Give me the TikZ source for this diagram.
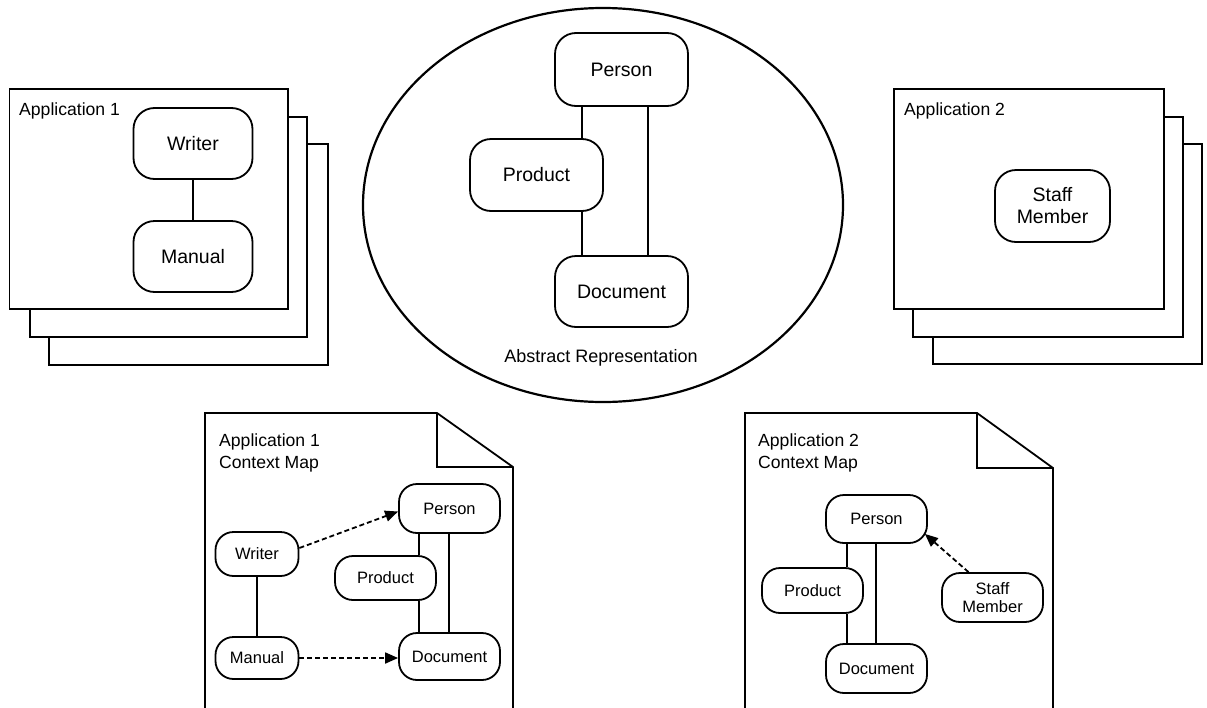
\documentclass[tikz,border=0pt]{standalone}
\usepackage{fontspec}
\setmainfont{Liberation Sans}
\usetikzlibrary{shapes.geometric,arrows.meta,calc}

\begin{document}
\begin{tikzpicture}[x=1pt,y=-1pt,
  outline/.style={draw=black,line width=1.8pt,line join=miter},
  sheet/.style={outline,fill=white},
  bigent/.style={draw,line width=1.8pt,rounded corners=21pt,inner sep=0pt,align=center,
    font=\fontsize{19.5}{22}\selectfont},
  smallent/.style={draw,line width=1.8pt,rounded corners=18pt,minimum width=101pt,inner sep=0pt,
    align=center,font=\fontsize{16.5}{18}\selectfont},
  boxtitle/.style={inner sep=0pt,anchor=base west,font=\fontsize{17.6}{22}\selectfont},
  pagetitle/.style={inner sep=0pt,anchor=north west,align=left,font=\fontsize{17.6}{22}\selectfont},
  link/.style={line width=1.8pt},
  ref/.style={line width=1.8pt,dash pattern=on 5pt off 3pt,-{Triangle[length=13pt,width=11pt]}}
]
\useasboundingbox (0,0) rectangle (1207,707);
\clip (0,0) rectangle (1207,707);

% ---- Application 1: stack of sheets ----
\draw[sheet] (49,144) rectangle (328,365);
\draw[sheet] (30,117) rectangle (307,337);
\draw[sheet] (9.5,89) rectangle (288,309);
\node[boxtitle] (t1) at (19,115) {Application 1};
\node[bigent,minimum width=119pt,minimum height=71pt] (w1) at (193,143.5) {Writer};
\node[bigent,minimum width=119pt,minimum height=71pt] (m1) at (193,256.5) {Manual};
\draw[link] (w1.south) -- (m1.north);

% ---- Abstract representation ----
\node[draw,ellipse,line width=2.2pt,minimum width=480pt,minimum height=394pt,inner sep=0pt] (abs) at (603,205) {};
\node[bigent,minimum width=133pt,minimum height=73pt] (pe) at (621.5,69.5) {Person};
\node[bigent,minimum width=133pt,minimum height=72pt] (pr) at (536.5,175) {Product};
\node[bigent,minimum width=133pt,minimum height=71pt] (do) at (621.5,291.5) {Document};
\coordinate (ca) at (582,0);
\coordinate (cb) at (648,0);
\draw[link] (pe.south -| ca) -- (pr.north -| ca);
\draw[link] (pr.south -| ca) -- (do.north -| ca);
\draw[link] (pe.south -| cb) -- (do.north -| cb);
\node[inner sep=0pt,anchor=base,font=\fontsize{18}{22}\selectfont] (absname) at (601,362) {Abstract Representation};

% ---- Application 2: stack of sheets ----
\draw[sheet] (933,144) rectangle (1202,364);
\draw[sheet] (913,117) rectangle (1183,337);
\draw[sheet] (894,89) rectangle (1164,309);
\node[boxtitle] (t2) at (904,115) {Application 2};
\node[bigent,minimum width=115pt,minimum height=72pt] (s1) at (1052.5,206) {Staff\\Member};

% ---- Application 1 context map ----
\draw[sheet] (205,413) -- (437,413) -- (513,467) -- (513,720) -- (205,720) -- cycle;
\draw[outline] (437,413) -- (437,467) -- (513,467);
\node[pagetitle] (t3) at (219,433.2) {Application 1\\Context Map};
\node[smallent,minimum height=49pt] (p2) at (449.5,508.5) {Person};
\node[smallent,minimum width=83pt,minimum height=44pt] (w2) at (257,554) {Writer};
\node[smallent,minimum height=44pt] (pr2) at (385.5,578) {Product};
\node[smallent,minimum width=83pt,minimum height=42pt] (m2) at (257,658) {Manual};
\node[smallent,minimum height=47pt] (d2) at (449.5,656.5) {Document};
\coordinate (cc) at (419,0);
\coordinate (cd) at (449,0);
\draw[link] (w2.south) -- (m2.north);
\draw[link] (p2.south -| cc) -- (pr2.north -| cc);
\draw[link] (pr2.south -| cc) -- (d2.north -| cc);
\draw[link] (p2.south -| cd) -- (d2.north -| cd);
\draw[ref] ($(w2.east)+(0,-6)$) -- ($(p2.west)+(0,3)$);
\draw[ref] (m2.east) -- (m2.east -| d2.west);

% ---- Application 2 context map ----
\draw[sheet] (745,413) -- (977,413) -- (1053,468) -- (1053,720) -- (745,720) -- cycle;
\draw[outline] (977,413) -- (977,468) -- (1053,468);
\node[pagetitle] (t4) at (758,433.2) {Application 2\\Context Map};
\node[smallent,minimum height=48pt] (p3) at (876.5,519) {Person};
\node[smallent,minimum height=45pt] (pr3) at (812.5,590.5) {Product};
\node[smallent,minimum height=49pt] (d3) at (876.5,668.5) {Document};
\node[smallent,minimum height=49pt] (s3) at (992.5,597.5) {Staff\\Member};
\coordinate (ce) at (847,0);
\coordinate (cf) at (876,0);
\draw[link] (p3.south -| ce) -- (pr3.north -| ce);
\draw[link] (pr3.south -| ce) -- (d3.north -| ce);
\draw[link] (p3.south -| cf) -- (d3.north -| cf);
\draw[ref] ($(s3.north)+(-24,0)$) -- ($(p3.south east)+(-3,-10)$);
\end{tikzpicture}
\end{document}
